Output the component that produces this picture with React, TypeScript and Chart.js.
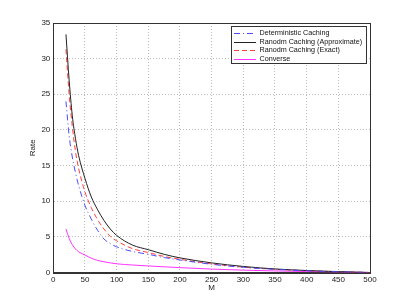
import React, { useEffect, useRef } from "react";
import { Chart, registerables } from "chart.js";

Chart.register(...registerables);

const mValues = [20, 25, 30, 35, 40, 50, 60, 70, 80, 90, 100, 125, 150, 175, 200, 250, 300, 350, 400, 450, 500];
const deterministic = [24, 19.2, 16.2, 14, 12.2, 9.4, 7.5, 5.9, 4.7, 4.05, 3.6, 2.95, 2.55, 2.1, 1.76, 1.15, 0.73, 0.44, 0.24, 0.1, 0];
const randomApprox = [33.4, 27, 22, 18.8, 16.4, 13.2, 10.6, 8.8, 7.3, 6.1, 5.2, 3.85, 3.2, 2.55, 2.05, 1.35, 0.85, 0.5, 0.28, 0.12, 0];
const randomExact = [31.3, 25, 20.5, 17, 14.6, 11.3, 9.1, 7.4, 6.1, 5.05, 4.45, 3.35, 2.8, 2.25, 1.85, 1.2, 0.75, 0.45, 0.25, 0.1, 0];
const converse = [6.1, 4.8, 3.9, 3.3, 2.9, 2.45, 2.0, 1.7, 1.5, 1.35, 1.22, 1.05, 0.92, 0.8, 0.68, 0.48, 0.33, 0.22, 0.13, 0.06, 0];

const seriesLabels = [
  "Deterministic Caching",
  "Ranodm Caching (Approximate)",
  "Ranodm Caching (Exact)",
  "Converse",
];
const xTicks = [0, 50, 100, 150, 200, 250, 300, 350, 400, 450, 500];
const yTicks = [0, 5, 10, 15, 20, 25, 30, 35];

const FONT = "'Liberation Sans', Arial, sans-serif";

const boxPlugin = {
  id: "boxPlugin",
  afterDraw(chart: any) {
    const { ctx, chartArea } = chart;
    ctx.save();
    ctx.strokeStyle = "#333";
    ctx.lineWidth = 1;
    ctx.setLineDash([]);
    ctx.strokeRect(
      Math.round(chartArea.left) + 0.5,
      Math.round(chartArea.top) + 0.5,
      Math.round(chartArea.right - chartArea.left),
      Math.round(chartArea.bottom - chartArea.top)
    );
    // legend
    const lx = 231.5, ly = 26.5, lw = 135, lh = 37;
    ctx.fillStyle = "#fff";
    ctx.fillRect(lx, ly, lw, lh);
    ctx.strokeStyle = "#333";
    ctx.strokeRect(lx, ly, lw, lh);
    const rows = [32.7, 41.5, 50.3, 59];
    chart.data.datasets.forEach((ds: any, i: number) => {
      const y = Math.round(rows[i]) + 0.5;
      ctx.strokeStyle = ds.borderColor;
      ctx.lineWidth = 1;
      ctx.setLineDash(ds.borderDash || []);
      ctx.beginPath();
      ctx.moveTo(234, y);
      ctx.lineTo(256, y);
      ctx.stroke();
      ctx.setLineDash([]);
      ctx.fillStyle = "#111";
      ctx.font = `7.2px ${FONT}`;
      ctx.textBaseline = "middle";
      ctx.textAlign = "left";
      ctx.fillText(ds.label, 259.5, y);
    });
    ctx.restore();
  },
};

export default function App() {
  const ref = useRef<HTMLCanvasElement>(null);
  useEffect(() => {
    const mk = (vals: number[]) => mValues.map((m, i) => ({ x: m, y: vals[i] }));
    const chart = new Chart(ref.current!, {
      type: "line",
      data: {
        datasets: [
          { label: seriesLabels[0], data: mk(deterministic), borderColor: "#4d4dff", borderDash: [6, 3, 1, 3], borderWidth: 1, pointRadius: 0, cubicInterpolationMode: "monotone" },
          { label: seriesLabels[1], data: mk(randomApprox), borderColor: "#222", borderWidth: 1, pointRadius: 0, cubicInterpolationMode: "monotone" },
          { label: seriesLabels[2], data: mk(randomExact), borderColor: "#ff4040", borderDash: [5, 3], borderWidth: 1, pointRadius: 0, cubicInterpolationMode: "monotone" },
          { label: seriesLabels[3], data: mk(converse), borderColor: "#ff33ff", borderWidth: 1, pointRadius: 0, cubicInterpolationMode: "monotone" },
        ] as any,
      },
      options: {
        animation: false,
        responsive: true,
        maintainAspectRatio: false,
        layout: { padding: { left: 0, top: 23, right: 39, bottom: 0 } },
        plugins: { legend: { display: false }, tooltip: { enabled: false } },
        scales: {
          x: {
            type: "linear",
            min: 0,
            max: 500,
            afterBuildTicks: (s: any) => { s.ticks = xTicks.map((v) => ({ value: v })); },
            afterFit: (s: any) => { s.height = 34.5; },
            grid: { color: "#bbb", drawTicks: false } as any,
            border: { dash: [1, 2], color: "#333" } as any,
            ticks: { padding: 2, color: "#222", font: { family: FONT, size: 8 }, maxRotation: 0 },
            title: { display: true, text: "M", color: "#222", font: { family: FONT, size: 8 }, padding: { top: 0, bottom: 14 } },
          },
          y: {
            type: "linear",
            min: 0,
            max: 35,
            afterBuildTicks: (s: any) => { s.ticks = yTicks.map((v) => ({ value: v })); },
            afterFit: (s: any) => { s.width = 53.3; },
            grid: { color: "#bbb", drawTicks: false },
            border: { dash: [1, 2], color: "#333" } as any,
            ticks: { padding: 3, color: "#222", font: { family: FONT, size: 8 } },
            title: { display: true, text: "Rate", color: "#222", font: { family: FONT, size: 8 }, padding: { top: 28, bottom: 0 } },
          },
        },
      } as any,
      plugins: [boxPlugin],
    });
    return () => chart.destroy();
  }, []);
  return (
    <div style={{ position: "absolute", left: 0, top: 0, width: 409, height: 307, background: "#fff" }}>
      <canvas ref={ref} />
    </div>
  );
}
